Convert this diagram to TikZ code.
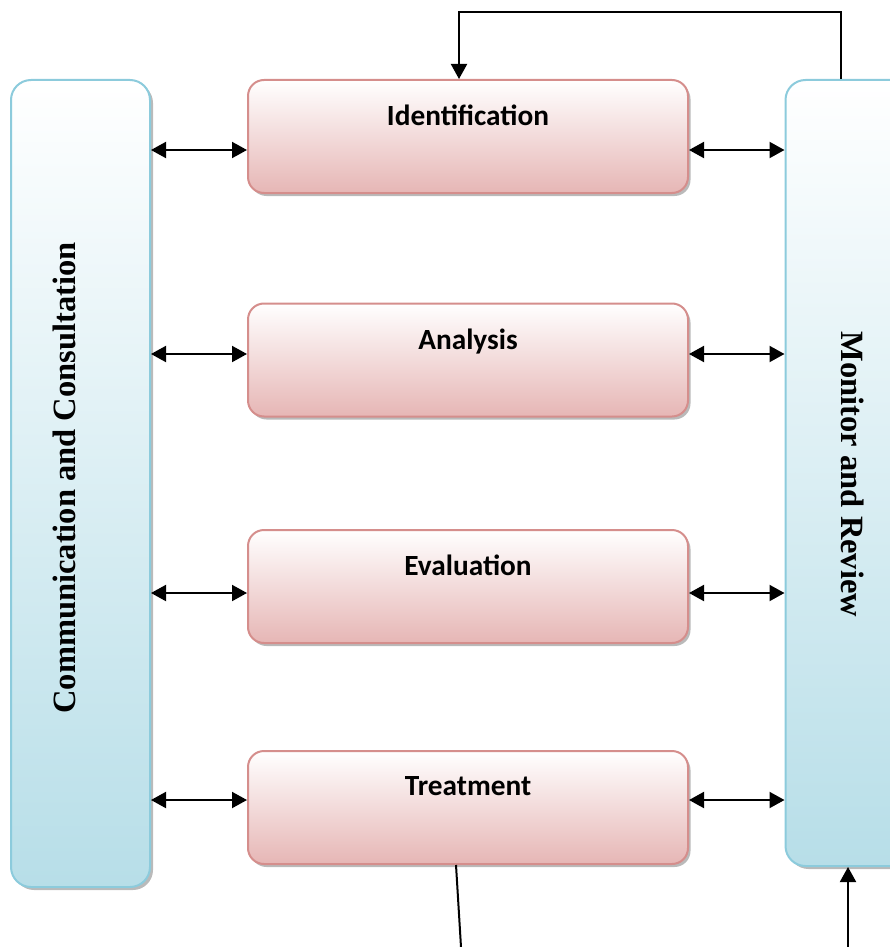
\documentclass[tikz,border=0pt]{standalone}
\usepackage{fontspec}
\setmainfont{Liberation Serif}
\newfontfamily\calfont{Carlito}
\usetikzlibrary{arrows.meta,shadows,positioning,calc}
\definecolor{pinkline}{HTML}{D58E8C}
\definecolor{pinkbot}{HTML}{E6B6B5}
\definecolor{blueline}{HTML}{8CCBDC}
\definecolor{bluebot}{HTML}{B7DEE8}
\tikzset{
  stagebox/.style={draw=pinkline, line width=2pt, rounded corners=16pt,
    top color=white, bottom color=pinkbot, minimum width=440pt, minimum height=113pt,
    drop shadow={shadow xshift=2.5pt, shadow yshift=-3pt, opacity=0.45, fill=black!60}},
  sidebox/.style={draw=blueline, line width=2pt, rounded corners=20pt,
    top color=white, bottom color=bluebot, minimum width=139pt,
    drop shadow={shadow xshift=3pt, shadow yshift=-3pt, opacity=0.45, fill=black!60}},
  stagetext/.style={font=\calfont\bfseries\fontsize{29.3}{32}\selectfont, anchor=north, inner sep=0pt},
  sidetext/.style={font=\bfseries\fontsize{32.5}{36}\selectfont, inner sep=0pt},
  conn/.style={line width=2pt, draw=black},
  biarrow/.style={conn, {Triangle[length=15pt,width=16pt]}-{Triangle[length=15pt,width=16pt]}},
  uparrow/.style={conn, -{Triangle[length=15pt,width=16pt]}}
}
\begin{document}
\begin{tikzpicture}[x=1pt,y=-1pt]
\useasboundingbox (0,0) rectangle (890,947);
\node[sidebox, minimum height=807pt] (comm) at (80.5,483.5) {};
\node[sidebox, minimum height=786pt] (mon) at (855,473) {};
\node[sidetext, rotate=90] (commt) at (64,478) {Communication and Consultation};
\node[sidetext, rotate=-90] (mont) at (853,474.5) {Monitor and Review};

\node[stagebox] (ident) at (468,136.5) {};
\node[stagebox] (anal) at (468,360) {};
\node[stagebox] (eval) at (468,586.5) {};
\node[stagebox] (treat) at (468,807.5) {};

\node[stagetext] (identt) at ([yshift=-26pt]ident.north) {Identification};
\node[stagetext] (analt) at ([yshift=-26pt]anal.north) {Analysis};
\node[stagetext] (evalt) at ([yshift=-26pt]eval.north) {Evaluation};
\node[stagetext] (treatt) at ([yshift=-26pt]treat.north) {Treatment};

\foreach \n/\y in {ident/150, anal/354, eval/593, treat/800}{
  \draw[biarrow] (comm.east |- 0,\y) -- (\n.west |- 0,\y);
  \draw[biarrow] (\n.east |- 0,\y) -- (mon.west |- 0,\y);
}

\draw[uparrow] ([xshift=-14pt]mon.north) -- ++(0,-67) -| ([xshift=-9pt]ident.north);
\coordinate (bl) at (461,947);
\coordinate (br) at (848,947);
\draw[conn] ([xshift=-12pt]treat.south) -- (bl);
\draw[uparrow] (br) -- ([xshift=-7pt]mon.south);
\end{tikzpicture}
\end{document}
